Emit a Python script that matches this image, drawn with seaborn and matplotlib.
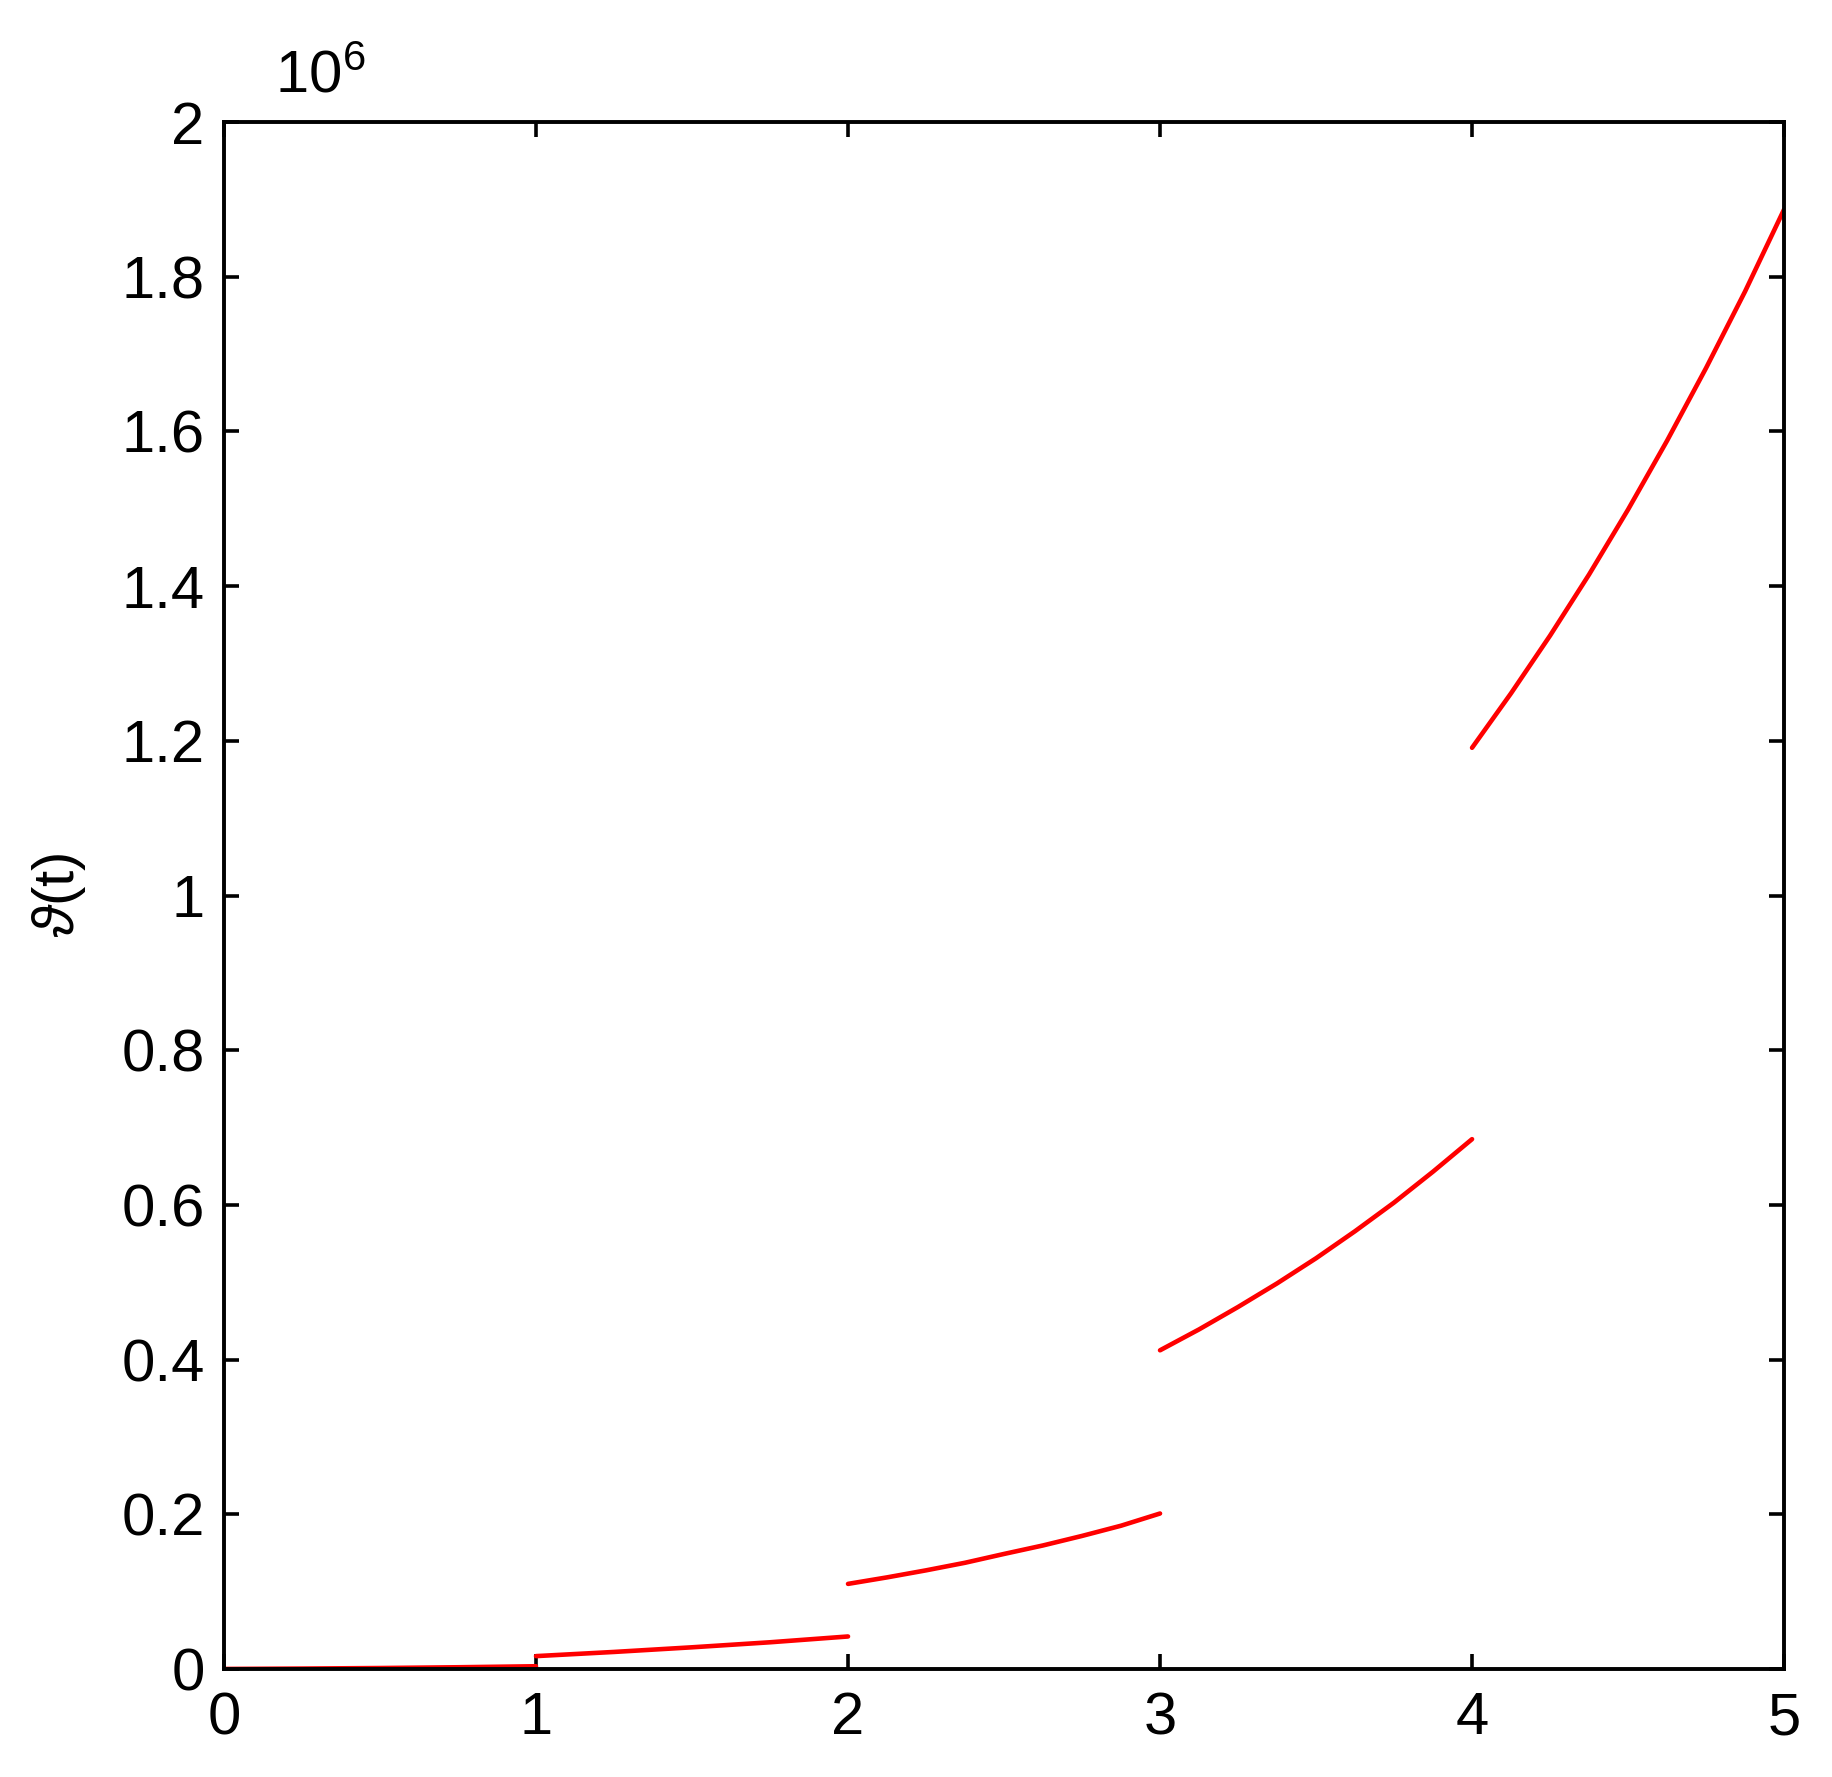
import matplotlib
matplotlib.use("Agg")
import matplotlib.pyplot as plt
import numpy as np
import pandas as pd
import seaborn as sns

# piecewise segments, values
seg0_t = [0.0, 0.25, 0.5, 0.75, 1.0]
seg0_v = [0, 500, 1200, 2200, 3500]
seg1_t = [1.0, 1.25, 1.5, 1.75, 2.0]
seg1_v = [16600, 22000, 28000, 34500, 42000]
seg2_t = [2.0, 2.125, 2.25, 2.375, 2.5, 2.625, 2.75, 2.875, 3.0]
seg2_v = [110000, 118400, 127500, 137300, 148700, 159700, 172000, 185200, 201000]
seg3_t = [3.0, 3.125, 3.25, 3.375, 3.5, 3.625, 3.75, 3.875, 4.0]
seg3_v = [412000, 439000, 468000, 498500, 531000, 566000, 603000, 643000, 685000]
seg4_t = [4.0, 4.125, 4.25, 4.375, 4.5, 4.625, 4.75, 4.875, 5.0]
seg4_v = [1191000, 1261500, 1336000, 1415000, 1499000, 1588000, 1682000, 1781000, 1887000]

x_ticks = [0, 1, 2, 3, 4, 5]
y_ticks = [0, 200000, 400000, 600000, 800000, 1000000, 1200000, 1400000, 1600000, 1800000, 2000000]
y_labels = ['0', '0.2', '0.4', '0.6', '0.8', '1', '1.2', '1.4', '1.6', '1.8', '2']

frames = []
for i, (t, v) in enumerate([(seg0_t, seg0_v), (seg1_t, seg1_v), (seg2_t, seg2_v),
                            (seg3_t, seg3_v), (seg4_t, seg4_v)]):
    frames.append(pd.DataFrame({'t': t, 'v': v, 'seg': i}))
df = pd.concat(frames, ignore_index=True)

sns.set_theme(style="white")
plt.rcParams['font.family'] = ['Liberation Sans', 'DejaVu Sans']
plt.rcParams['mathtext.fontset'] = 'custom'
plt.rcParams['mathtext.rm'] = 'Liberation Sans'
plt.rcParams['mathtext.it'] = 'Liberation Sans:italic'
plt.rcParams['text.color'] = 'black'
plt.rcParams['axes.labelcolor'] = 'black'

fig = plt.figure(figsize=(18.33, 17.77), dpi=100)
ax = fig.add_axes([0.1222, 0.0608, 0.8511, 0.8705])

sns.lineplot(data=df, x='t', y='v', units='seg', estimator=None, color='#ff0000',
             linewidth=3.3, ax=ax, legend=False)

ax.set_xlim(0, 5)
ax.set_ylim(0, 2000000)
ax.set_xticks(x_ticks)
ax.set_xticklabels([str(x) for x in x_ticks])
ax.set_yticks(y_ticks)
ax.set_yticklabels(y_labels)
ax.set_xlabel('')
ax.set_ylabel(r'$\vartheta$(t)', fontsize=42, va='center', color='black')
ax.yaxis.set_label_coords(-0.106, 0.5)

ax.tick_params(axis='both', direction='in', length=11, width=2.6, labelsize=43,
               top=True, right=True, bottom=True, left=True,
               colors='black', labelcolor='black')
ax.tick_params(axis='x', pad=16)
ax.tick_params(axis='y', pad=14)
for sp in ax.spines.values():
    sp.set_linewidth(2.8)
    sp.set_color('black')

fig.text(0.150, 0.9477, r'10$^{6}$', fontsize=43, ha='left', va='baseline', color='black')

fig.savefig('out.png', dpi=100, facecolor='white')
